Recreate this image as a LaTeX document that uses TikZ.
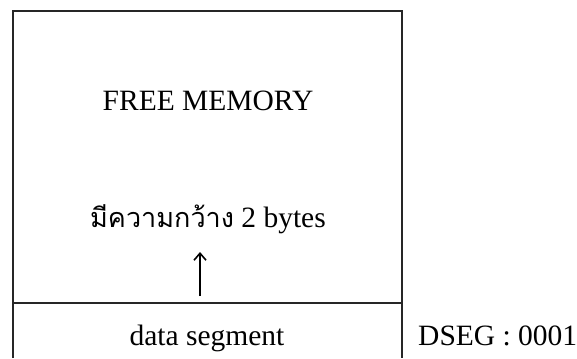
\documentclass[tikz,border=0pt]{standalone}
\usepackage{fontspec}
\setmainfont{Liberation Serif}
\newfontfamily\thaifont[Script=Thai]{Loma}
\usetikzlibrary{arrows.meta}
\begin{document}
\begin{tikzpicture}[x=1pt,y=-1pt,
  lbl/.style={anchor=base,inner sep=0pt,font=\fontsize{29.5}{31}\selectfont},
  frame/.style={line width=1.5pt,draw=black!85}]
\useasboundingbox (0,0) rectangle (577,358);
\coordinate (tl) at (13,11);
\coordinate (tr) at (402,11);
\coordinate (bl) at (13,358);
\coordinate (br) at (402,358);
\coordinate (dl) at (13,303);
\coordinate (dr) at (402,303);
\draw[frame] (bl) -- (tl) -- (tr) -- (br);
\draw[frame] (dl) -- (dr);
\node[lbl] (free) at (208,111) {FREE MEMORY};
\node[lbl] (width) at (208,227) {{\thaifont\fontsize{27}{30}\selectfont มีความกว้าง} 2 bytes};
\node[lbl] (data) at (207,345) {data segment};
\node[lbl,anchor=base west] (dseg) at (418,345) {DSEG : 0001};
\coordinate (abase) at (200,296);
\coordinate (atip) at (200,252);
\draw[line width=1.6pt,-{Straight Barb[length=7pt,width=12pt,line width=1.6pt]}] (abase) -- (atip);
\end{tikzpicture}
\end{document}
